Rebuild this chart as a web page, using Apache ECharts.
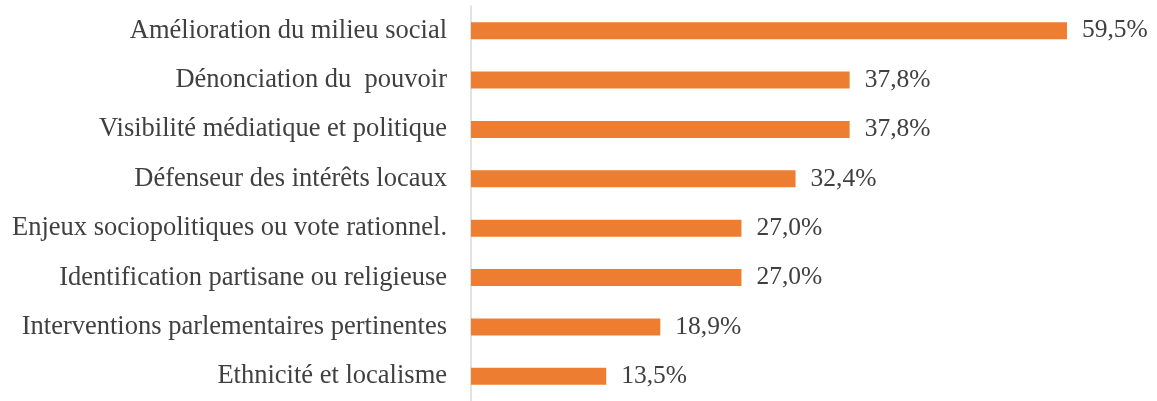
<!DOCTYPE html>
<html>
<head>
<meta charset="utf-8">
<script src="https://cdn.jsdelivr.net/npm/echarts@6/dist/echarts.min.js"></script>
<style>
  html, body { margin: 0; padding: 0; background: #fff; }
  #chart { width: 1157px; height: 401px; }
</style>
</head>
<body>
<div id="chart"></div>
<script>
// Motivations, listed top to bottom
const categories = [
  'Amélioration du milieu social',
  'Dénonciation du  pouvoir',
  'Visibilité médiatique et politique',
  'Défenseur des intérêts locaux',
  'Enjeux sociopolitiques ou vote rationnel.',
  'Identification partisane ou religieuse',
  'Interventions parlementaires pertinentes',
  'Ethnicité et localisme'
];
const values = [59.5, 37.8, 37.8, 32.4, 27.0, 27.0, 18.9, 13.5];

const font = '"Liberation Serif", "Times New Roman", serif';
const chart = echarts.init(document.getElementById('chart'), null, { renderer: 'canvas' });

chart.setOption({
  animation: false,
  backgroundColor: '#ffffff',
  grid: { left: 471, right: 85, top: 6, bottom: -2, containLabel: false },
  xAxis: {
    type: 'value',
    min: 0,
    max: 60,
    show: false
  },
  yAxis: {
    type: 'category',
    inverse: true,
    data: categories,
    axisLine: { show: true, lineStyle: { color: '#d9d9d9', width: 1.5 } },
    axisTick: { show: false },
    axisLabel: {
      margin: 24,
      color: '#404040',
      fontFamily: font,
      fontSize: 26.5
    },
    splitLine: { show: false }
  },
  series: [{
    type: 'bar',
    data: values,
    barWidth: 17,
    itemStyle: { color: '#ED7D31' },
    label: {
      show: true,
      position: 'right',
      distance: 15,
      color: '#404040',
      fontFamily: font,
      fontSize: 25.5,
      formatter: p => p.value.toFixed(1).replace('.', ',') + '%'
    }
  }]
});
</script>
</body>
</html>
